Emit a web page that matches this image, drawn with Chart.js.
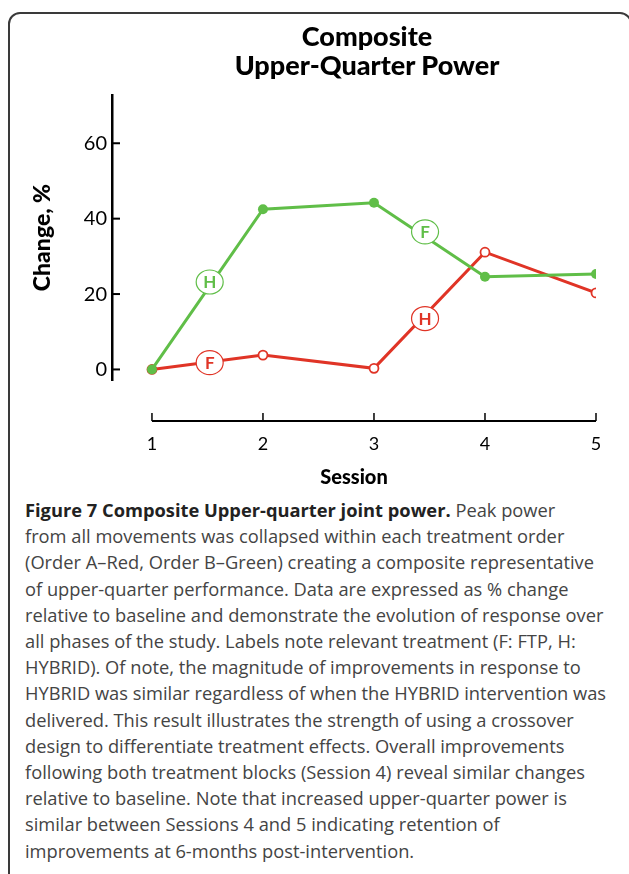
<!DOCTYPE html>
<html>
<head>
<meta charset="utf-8">
<script src="https://cdn.jsdelivr.net/npm/chart.js@4"></script>
<style>
  html, body { margin: 0; padding: 0; background: #fff; overflow: hidden; }
  body { width: 629px; height: 874px; position: relative; }
  #frame { position: absolute; left: 8px; top: 12px; width: 624px; height: 900px;
    border: 2px solid #3a3a3a; border-radius: 12px; box-sizing: border-box; }
  #title { position: absolute; left: 167px; width: 400px; top: 21px; text-align: center;
    font: 900 27px/29px Lato, sans-serif; color: #000; }
  #chartBox { position: absolute; left: 0; top: 0; width: 629px; height: 495px; }
  #caption { position: absolute; left: 25px; top: 497px; width: 600px;
    font: 18.3px/26.2px "Open Sans", sans-serif; color: #444; white-space: nowrap; }
  #caption b { color: #222; }
</style>
</head>
<body>
<div id="frame"></div>
<div id="chartBox"><canvas id="line"></canvas></div>
<div id="title">Composite<br>Upper-Quarter Power</div>
<div id="caption"><b>Figure 7 Composite Upper-quarter joint power.</b> Peak power<br>from all movements was collapsed within each treatment order<br>(Order A–Red, Order B–Green) creating a composite representative<br>of upper-quarter performance. Data are expressed as % change<br>relative to baseline and demonstrate the evolution of response over<br>all phases of the study. Labels note relevant treatment (F: FTP, H:<br>HYBRID). Of note, the magnitude of improvements in response to<br>HYBRID was similar regardless of when the HYBRID intervention was<br>delivered. This result illustrates the strength of using a crossover<br>design to differentiate treatment effects. Overall improvements<br>following both treatment blocks (Session 4) reveal similar changes<br>relative to baseline. Note that increased upper-quarter power is<br>similar between Sessions 4 and 5 indicating retention of<br>improvements at 6-months post-intervention.</div>
<script>
const sessions = [1, 2, 3, 4, 5]
const orderA = [0, 3.8, 0.3, 31.1, 20.3]   // red
const orderB = [0, 42.5, 44.2, 24.6, 25.3] // green
const yTicks = [0, 20, 40, 60]
// treatment labels on the lines
const tagX = [1.52, 1.52, 3.46, 3.46]
const tagY = [23.2, 1.8, 36.5, 13.5]
const tagText = ['H', 'F', 'F', 'H']
const tagSeries = ['B', 'A', 'B', 'A']

const red = 'rgb(224, 52, 38)'
const green = 'rgb(96, 190, 72)'

const axisPlugin = {//draws inward y ticks, the detached x axis and the H/F tags
  id: 'axisStuff',
  afterDatasetsDraw(chart) {
    const ctx = chart.ctx
    const xs = chart.scales.x
    const ys = chart.scales.y
    ctx.save()
    ctx.strokeStyle = '#000'
    ctx.lineWidth = 2
    yTicks.forEach(t => {
      let py = ys.getPixelForValue(t)
      ctx.beginPath()
      ctx.moveTo(xs.left, py)
      ctx.lineTo(xs.left + 8, py)
      ctx.stroke()
    })
    let axY = xs.top + 41
    ctx.beginPath()
    ctx.moveTo(xs.getPixelForValue(sessions[0]), axY)
    ctx.lineTo(xs.getPixelForValue(sessions[sessions.length - 1]), axY)
    ctx.stroke()
    ctx.lineWidth = 1.5
    sessions.forEach(s => {
      let px = xs.getPixelForValue(s)
      ctx.beginPath()
      ctx.moveTo(px, axY)
      ctx.lineTo(px, axY - 8)
      ctx.stroke()
    })
    for (let i = 0; i < tagText.length; i++) {
      let px = xs.getPixelForValue(tagX[i])
      let py = ys.getPixelForValue(tagY[i])
      let col = tagSeries[i] == 'A' ? red : green
      ctx.beginPath()
      ctx.ellipse(px, py, 13.5, 12, 0, 0, Math.PI * 2)
      ctx.fillStyle = '#fff'
      ctx.fill()
      ctx.lineWidth = 1.2
      ctx.strokeStyle = col
      ctx.stroke()
      ctx.fillStyle = col
      ctx.font = 'bold 17px Lato, sans-serif'
      ctx.textAlign = 'center'
      ctx.textBaseline = 'middle'
      ctx.fillText(tagText[i], px, py + 1)
    }
    ctx.restore()
  }
}

const linedata = {
  datasets: [{
    label: 'Order A',
    data: sessions.map((s, i) => ({x: s, y: orderA[i]})),
    borderColor: red,
    borderWidth: 3,
    pointRadius: 4.5,
    pointBorderWidth: 1.8,
    pointBackgroundColor: '#fff',
    pointBorderColor: red,
    order: 2
  }, {
    label: 'Order B',
    data: sessions.map((s, i) => ({x: s, y: orderB[i]})),
    borderColor: green,
    borderWidth: 3,
    pointRadius: 5,
    pointBorderWidth: 0,
    pointBackgroundColor: green,
    pointBorderColor: green,
    order: 1
  }]
}

const lineconfig = {
  type: 'line',
  data: linedata,
  plugins: [axisPlugin],
  options: {
    responsive: true,
    maintainAspectRatio: false,
    animation: false,
    layout: { padding: { left: 0, right: 33, top: 95, bottom: 0 } },
    plugins: { legend: { display: false }, tooltip: { enabled: false } },
    scales: {
      x: {
        type: 'linear',
        min: 0.64,
        max: 5,
        afterFit: s => { s.height = 115; s.paddingLeft = 0; s.paddingRight = 0 },
        afterBuildTicks: s => { s.ticks = sessions.map(v => ({value: v})) },
        grid: { display: false, drawTicks: false },
        border: { display: false },
        ticks: { padding: 53, color: '#000', font: { family: 'Lato', size: 18 } },
        title: { display: true, text: 'Session', color: '#000',
          padding: { top: 0, bottom: 5 }, font: { family: 'Lato', size: 20, weight: 900 } }
      },
      y: {
        min: -2.8,
        max: 72.8,
        afterFit: s => { s.width = 112 },
        afterBuildTicks: s => { s.ticks = yTicks.map(v => ({value: v})) },
        grid: { drawOnChartArea: false, drawTicks: false },
        border: { display: true, color: '#000', width: 2.5 },
        ticks: { padding: 5, color: '#000', font: { family: 'Lato', size: 20 } },
        title: { display: true, text: 'Change, %', color: '#000',
          padding: { top: 29, bottom: 0 }, font: { family: 'Lato', size: 23, weight: 900 } }
      }
    }
  }
}

const line = new Chart(document.getElementById('line'), lineconfig)
</script>
</body>
</html>
